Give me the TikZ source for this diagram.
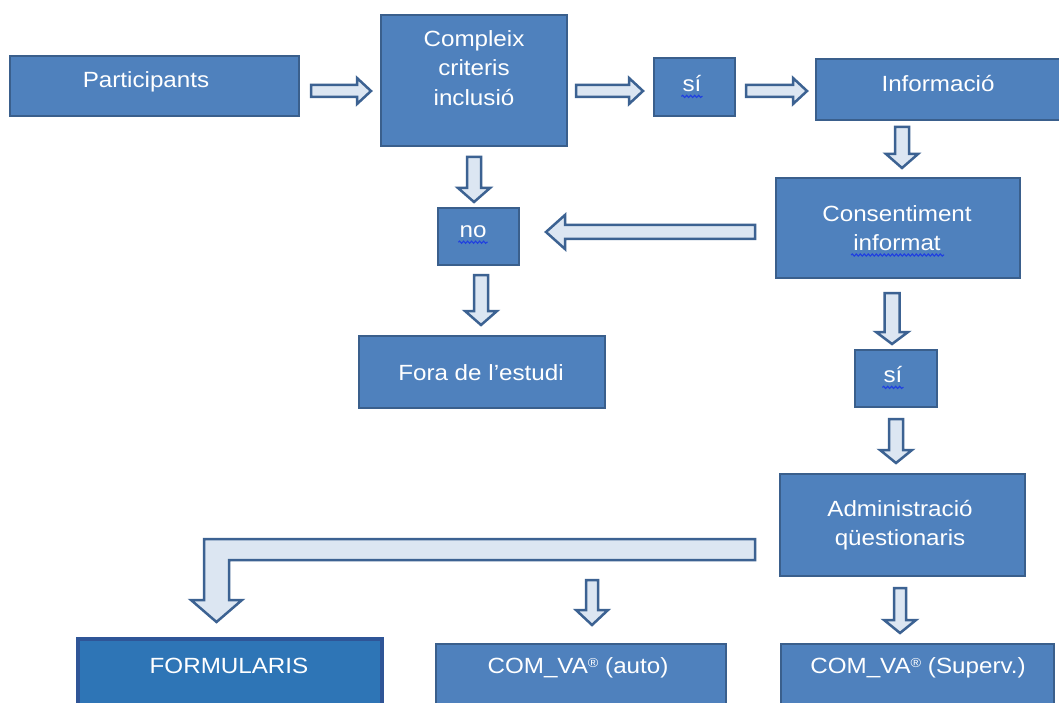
\documentclass[tikz,border=0pt]{standalone}
\usepackage{fontspec}
\setmainfont{Liberation Sans}[FakeStretch=1.1]
\usetikzlibrary{calc,fit,decorations.pathmorphing}

\definecolor{boxfill}{HTML}{4F81BD}
\definecolor{boxline}{HTML}{3A5F8C}
\definecolor{formfill}{HTML}{2E75B6}
\definecolor{formline}{HTML}{2F5597}
\definecolor{arrfill}{HTML}{DCE6F2}
\definecolor{arrline}{HTML}{3C6292}
\definecolor{squig}{HTML}{2040E0}

\tikzset{
  box/.style={draw=boxline, fill=boxfill, line width=2.5pt, inner sep=0pt, rectangle},
  formbox/.style={box, draw=formline, fill=formfill, line width=3.5pt},
  txt/.style={text=white, font=\fontsize{22}{29.5}\selectfont, align=center, inner sep=0pt},
  barrow/.style={draw=arrline, fill=arrfill, line width=2.5pt, line join=miter},
  spell/.style={draw=squig, line width=1.1pt, decorate,
    decoration={snake, amplitude=1.1pt, segment length=4pt}},
}

% block arrow: tail, tip, half shaft width, half head width, head length
\newcommand\blockarrow[5]{%
  \coordinate (bah) at ($(#2)!#5!(#1)$);
  \draw[barrow] ($(#1)!#3!90:(#2)$) -- ($(bah)!#3!-90:(#1)$) -- ($(bah)!#4!-90:(#1)$)
    -- (#2) -- ($(bah)!#4!90:(#1)$) -- ($(bah)!#3!90:(#1)$) -- ($(#1)!#3!-90:(#2)$) -- cycle;
}
\newcommand\regmark{{\fontsize{13}{13}\selectfont\raisebox{6pt}{®}}}

\begin{document}
\begin{tikzpicture}[x=1pt, y=-1pt]
\clip (0,0) rectangle (1059,703);
\fill[white] (0,0) rectangle (1059,703);

% boxes
\node[box, fit={(10,56) (299,116)}] (part) {};
\node[box, fit={(381,15) (567,146)}] (crit) {};
\node[box, fit={(654,58) (735,116)}] (si1) {};
\node[box, fit={(816,59) (1070,120)}] (info) {};
\node[box, fit={(776,178) (1020,278)}] (cons) {};
\node[box, fit={(438,208) (519,265)}] (no) {};
\node[box, fit={(359,336) (605,408)}] (fora) {};
\node[box, fit={(855,350) (937,407)}] (si2) {};
\node[box, fit={(780,474) (1025,576)}] (admin) {};
\node[formbox, fit={(78,639) (382,730)}] (form) {};
\node[box, fit={(436,644) (726,730)}] (auto) {};
\node[box, fit={(781,644) (1054,730)}] (sup) {};

% labels
\node[txt] (tpart) at (146,82) {Participants};
\node[txt] (tcrit) at (474,68) {Compleix\\criteris\\inclusió};
\node[txt] (tsi1) at (692,84) {sí};
\node[txt] (tinfo) at (938,84) {Informació};
\node[txt] (tcons) at (897,228) {Consentiment\\informat};
\node[txt] (tno) at (473,232) {no};
\node[txt] (tfora) at (481,373) {Fora de l'estudi};
\node[txt] (tsi2) at (893,375) {sí};
\node[txt] (tadmin) at (900,525) {Administració\\qüestionaris};
\node[txt] (tform) at (229,666) {FORMULARIS};
\node[txt] (tauto) at (578,668) {COM\_VA\regmark{} (auto)};
\node[txt] (tsup) at (918,668) {COM\_VA\regmark{} (Superv.)};

% spelling marks
\draw[spell] ($(tsi1.south west)+(-1,4)$) -- ($(tsi1.south east)+(1,4)$);
\draw[spell] ($(tno.south west)+(-1,4)$) -- ($(tno.south east)+(1,4)$);
\draw[spell] ($(tsi2.south west)+(-1,4)$) -- ($(tsi2.south east)+(1,4)$);
\draw[spell] ($(tcons.south)+(-46,4)$) -- ($(tcons.south)+(47,4)$);

% arrow end points
\coordinate (a1t) at (311,91);  \coordinate (a1h) at (371,91);
\coordinate (a2t) at (576,91);  \coordinate (a2h) at (643,91);
\coordinate (a3t) at (746,91);  \coordinate (a3h) at (807,91);
\coordinate (a4t) at (474,157); \coordinate (a4h) at (474,202);
\coordinate (a5t) at (902,127); \coordinate (a5h) at (902,168);
\coordinate (a6t) at (755,232); \coordinate (a6h) at (546,232);
\coordinate (a7t) at (481,275); \coordinate (a7h) at (481,325);
\coordinate (a8t) at (892,293); \coordinate (a8h) at (892,344);
\coordinate (a9t) at (896,419); \coordinate (a9h) at (896,463);
\coordinate (a10t) at (592,580); \coordinate (a10h) at (592,625);
\coordinate (a11t) at (900,588); \coordinate (a11h) at (900,633);

\blockarrow{a1t}{a1h}{6pt}{13pt}{14pt}
\blockarrow{a2t}{a2h}{6pt}{13pt}{14pt}
\blockarrow{a3t}{a3h}{6pt}{13pt}{14pt}
\blockarrow{a4t}{a4h}{7pt}{16pt}{14pt}
\blockarrow{a5t}{a5h}{7pt}{16pt}{14pt}
\blockarrow{a6t}{a6h}{7pt}{17pt}{19pt}
\blockarrow{a7t}{a7h}{7pt}{16pt}{14pt}
\blockarrow{a8t}{a8h}{7.5pt}{16pt}{12pt}
\blockarrow{a9t}{a9h}{7pt}{16pt}{13pt}
\blockarrow{a10t}{a10h}{6pt}{16pt}{15pt}
\blockarrow{a11t}{a11h}{6pt}{16pt}{13pt}

% bent arrow towards the forms
\coordinate (bend) at (755,539);
\draw[barrow] (bend) -- (204,539) -- (204,600) -- (191,600) -- (216.5,622)
  -- (242,600) -- (229,600) -- (229,560) -- (755,560) -- cycle;
\end{tikzpicture}
\end{document}
